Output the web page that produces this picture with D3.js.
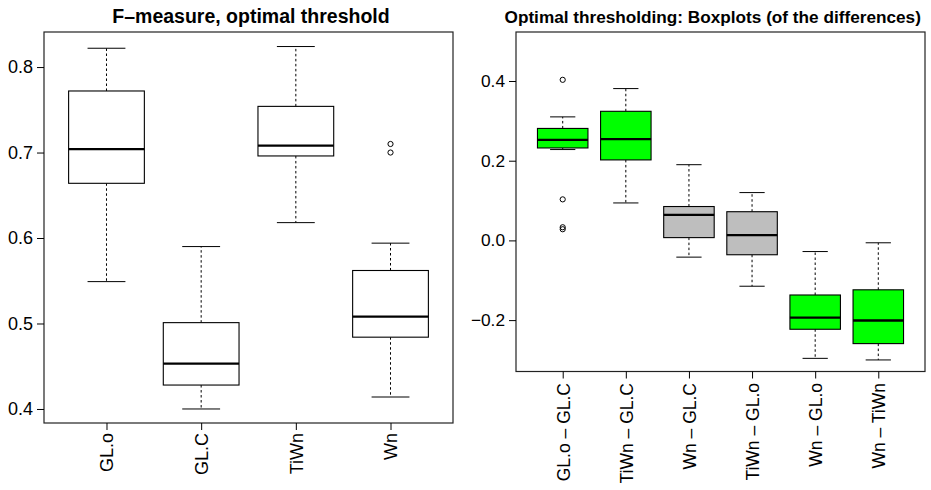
<!DOCTYPE html>
<html><head><meta charset="utf-8">
<script src="https://cdn.jsdelivr.net/npm/d3@7"></script>
<style>
body{margin:0;background:#fff}
svg{display:block;font-family:"Liberation Sans",Arial,Helvetica,sans-serif}
</style>
</head><body>
<svg id="chart" width="931" height="490"></svg>
<script>
// ---- Left panel data: F-measure, optimal threshold ----
const catsLeft  = ["GL.o", "GL.C", "TiWn", "Wn"];
const lowLeft   = [0.549, 0.400, 0.618, 0.414];
const q1Left    = [0.664, 0.428, 0.696, 0.484];
const medLeft   = [0.704, 0.453, 0.708, 0.508];
const q3Left    = [0.772, 0.501, 0.754, 0.562];
const highLeft  = [0.822, 0.590, 0.824, 0.594];
const outLeft   = [[], [], [], [0.710, 0.700]];
const ticksLeft = [0.4, 0.5, 0.6, 0.7, 0.8];

// ---- Right panel data: differences ----
const catsRight  = ["GL.o \u2013 GL.C", "TiWn \u2013 GL.C", "Wn \u2013 GL.C", "TiWn \u2013 GL.o", "Wn \u2013 GL.o", "Wn \u2013 TiWn"];
const lowRight   = [0.228, 0.094, -0.042, -0.115, -0.296, -0.300];
const q1Right    = [0.232, 0.202, 0.007, -0.036, -0.223, -0.259];
const medRight   = [0.2525, 0.254, 0.064, 0.013, -0.194, -0.201];
const q3Right    = [0.281, 0.324, 0.085, 0.072, -0.137, -0.124];
const highRight  = [0.310, 0.381, 0.190, 0.120, -0.028, -0.006];
const outRight   = [[0.403, 0.103, 0.033, 0.028], [], [], [], [], []];
const groupRight = ["sig", "sig", "ns", "ns", "sig", "sig"];
const ticksRight = [-0.2, 0.0, 0.2, 0.4];

const svg = d3.select("#chart");
const fmtNum = d => d3.format(".1f")(d).replace("-", "\u2212");

function panel(cfg) {
  const n = cfg.cats.length;
  const ext = 0.04 * n;
  const x = d3.scaleLinear().domain([0.5 - ext, n + 0.5 + ext]).range([cfg.left, cfg.right]);
  const y = d3.scaleLinear().domain(cfg.yDomain).range([cfg.bottom, cfg.top]);
  const g = svg.append("g");
  const data = cfg.cats.map((c, i) => ({
    pos: i + 1, low: cfg.low[i], q1: cfg.q1[i], med: cfg.med[i], q3: cfg.q3[i],
    high: cfg.high[i], out: cfg.out[i], fill: cfg.fill(i)
  }));
  const bw = 0.8, cw = 0.4;
  const b = g.selectAll("g.box").data(data).join("g").attr("class", "box");
  // whiskers (dashed)
  b.append("line").attr("x1", d => x(d.pos)).attr("x2", d => x(d.pos))
    .attr("y1", d => y(d.q3)).attr("y2", d => y(d.high))
    .attr("stroke", "#000").attr("stroke-width", 1).attr("stroke-dasharray", "2.5,2.5");
  b.append("line").attr("x1", d => x(d.pos)).attr("x2", d => x(d.pos))
    .attr("y1", d => y(d.q1)).attr("y2", d => y(d.low))
    .attr("stroke", "#000").attr("stroke-width", 1).attr("stroke-dasharray", "2.5,2.5");
  // staples
  ["low", "high"].forEach(k => {
    b.append("line").attr("x1", d => x(d.pos - cw / 2)).attr("x2", d => x(d.pos + cw / 2))
      .attr("y1", d => y(d[k])).attr("y2", d => y(d[k]))
      .attr("stroke", "#000").attr("stroke-width", 1);
  });
  // box
  b.append("rect").attr("x", d => x(d.pos - bw / 2)).attr("width", d => x(d.pos + bw / 2) - x(d.pos - bw / 2))
    .attr("y", d => y(d.q3)).attr("height", d => y(d.q1) - y(d.q3))
    .attr("fill", d => d.fill).attr("stroke", "#000").attr("stroke-width", 1.1);
  // median
  b.append("line").attr("x1", d => x(d.pos - bw / 2)).attr("x2", d => x(d.pos + bw / 2))
    .attr("y1", d => y(d.med)).attr("y2", d => y(d.med))
    .attr("stroke", "#000").attr("stroke-width", 2.3);
  // outliers
  b.selectAll("circle").data(d => d.out.map(v => ({pos: d.pos, v}))).join("circle")
    .attr("cx", d => x(d.pos)).attr("cy", d => y(d.v)).attr("r", 2.6)
    .attr("fill", "none").attr("stroke", "#000").attr("stroke-width", 1);

  // frame
  g.append("rect").attr("x", cfg.left).attr("y", cfg.top)
    .attr("width", cfg.right - cfg.left).attr("height", cfg.bottom - cfg.top)
    .attr("fill", "none").attr("stroke", "#222").attr("stroke-width", 1.2);

  // y axis
  const ya = g.append("g").attr("transform", `translate(${cfg.left},0)`)
    .call(d3.axisLeft(y).tickValues(cfg.ticks).tickSize(7).tickPadding(4).tickFormat(fmtNum));
  ya.select(".domain").remove();
  ya.selectAll("text").attr("font-size", cfg.tickFont).attr("fill", "#000")
    .attr("font-family", "Liberation Sans, Arial, sans-serif");
  ya.selectAll("line").attr("stroke", "#000");

  // x axis
  const xa = g.append("g").attr("transform", `translate(0,${cfg.bottom})`)
    .call(d3.axisBottom(x).tickValues(d3.range(1, n + 1)).tickSize(7).tickFormat(i => cfg.cats[i - 1]));
  xa.select(".domain").remove();
  xa.selectAll("line").attr("stroke", "#000");
  xa.selectAll("text")
    .attr("font-size", cfg.labFont).attr("fill", "#000")
    .attr("font-family", "Liberation Sans, Arial, sans-serif")
    .attr("text-anchor", "end").attr("dy", null).attr("y", null)
    .attr("transform", i => `translate(${0.36 * cfg.labFont},${cfg.labEnd - cfg.bottom}) rotate(-90)`);

  // title
  svg.append("text").attr("x", cfg.titleX).attr("y", 23).attr("text-anchor", "middle")
    .attr("font-weight", "bold").attr("font-size", cfg.titleFont).text(cfg.title);
}

panel({
  left: 44, right: 453, top: 32, bottom: 423,
  yDomain: [0.3836, 0.841], ticks: ticksLeft,
  cats: catsLeft, low: lowLeft, q1: q1Left, med: medLeft, q3: q3Left, high: highLeft, out: outLeft,
  fill: i => "#ffffff",
  tickFont: 18, labFont: 18, labEnd: 433,
  title: "F\u2013measure, optimal threshold", titleX: 251, titleFont: 19.5
});

const groupColour = {sig: "#00ff00", ns: "#bebebe"};
panel({
  left: 516, right: 925, top: 32, bottom: 371.5,
  yDomain: [-0.329, 0.523], ticks: ticksRight,
  cats: catsRight, low: lowRight, q1: q1Right, med: medRight, q3: q3Right, high: highRight, out: outRight,
  fill: i => groupColour[groupRight[i]],
  tickFont: 17.3, labFont: 17.5, labEnd: 383,
  title: "Optimal thresholding: Boxplots (of the differences)", titleX: 712.7, titleFont: 17.2
});
</script>
</body></html>
